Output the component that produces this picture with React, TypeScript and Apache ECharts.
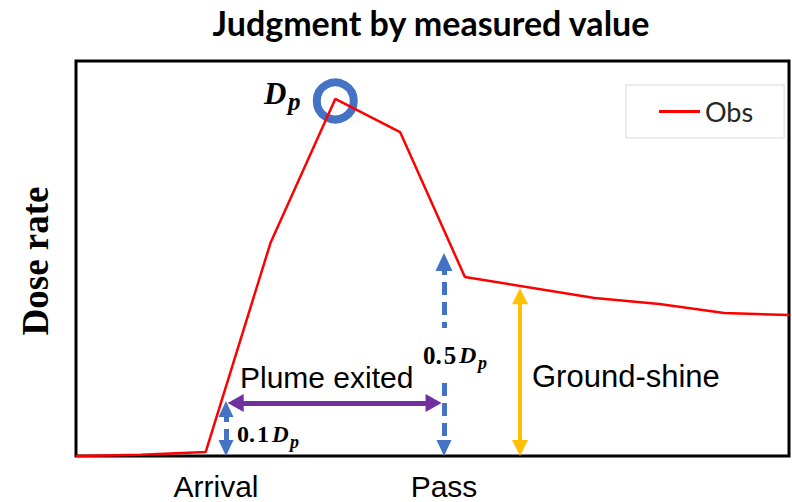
import React, { useEffect, useRef } from "react";
import * as echarts from "echarts";

// Observed dose-rate curve (schematic units, x = time step, y = % of axis range)
const timeSteps = [0, 1, 2, 3, 4, 5, 6, 8, 9, 10, 11];
const doseRate = [0, 0.3, 1.0, 53.9, 90.4, 82.0, 45.3, 40.0, 38.5, 36.2, 35.7];

// Annotation positions in data units
const arrivalX = 2.314;
const passX = 5.677;
const groundShineX = 6.85;
const groundShineTop = 42.5;
const plumeY = 13.42;
const plumeFromX = 2.34;
const plumeToX = 5.64;
const tenthTop = 13.9;
const halfTop = 51.4;
const halfGapTop = 32.4;
const halfGapBottom = 18.5;
const peakMark = [4.0, 89.9];

const X_MAX = 11;
const Y_MAX = 100;

export default function App() {
  const ref = useRef<HTMLDivElement>(null);
  useEffect(() => {
    if (!ref.current) return;
    const chart = echarts.init(ref.current, undefined, { renderer: "svg" });
    const left = 76, right = 3, top = 61, bottom = 46;
    const plotW = 792 - left - right;
    const plotH = 502 - top - bottom;
    const ux = X_MAX / plotW; // data units per px
    const uy = Y_MAX / plotH;

    const blue = "#4472C4";
    const purple = "#7030A0";
    const gold = "#FFC000";

    const pt = (x: number, y: number, sym: string, size?: number[]) => ({
      coord: [x, y],
      symbol: sym,
      symbolSize: size || [14, 16],
    });

    const seg = (
      a: any,
      b: any,
      color: string,
      width: number,
      dashed: boolean
    ) => [
      { ...a, lineStyle: { color, width, type: dashed ? [13, 7] : "solid" } },
      b,
    ];

    const hHead = 16;
    const markLines = [
      // 0.1 Dp double arrow at Arrival
      seg(
        pt(arrivalX, tenthTop - (hHead / 2) * uy, "triangle", [15, hHead]),
        pt(arrivalX, (hHead / 2) * uy, "triangle", [15, hHead]),
        blue,
        5,
        true
      ),
      // Plume exited horizontal arrow
      seg(
        pt(plumeFromX + 8 * ux, plumeY, "triangle", [18, 16]),
        pt(plumeToX - 8 * ux, plumeY, "triangle", [18, 16]),
        purple,
        5,
        false
      ),
      // 0.5 Dp upper part
      seg(
        pt(passX, halfTop - 9 * uy, "triangle", [17, 18]),
        pt(passX, halfGapTop, "none"),
        blue,
        5,
        true
      ),
      // 0.5 Dp lower part
      seg(
        pt(passX, halfGapBottom, "none"),
        pt(passX, (hHead / 2) * uy, "triangle", [15, hHead]),
        blue,
        5,
        true
      ),
      // Ground-shine
      seg(
        pt(groundShineX, groundShineTop - 8 * uy, "triangle", [16, 16]),
        pt(groundShineX, 8 * uy, "triangle", [16, 16]),
        gold,
        4,
        false
      ),
    ];

    const sans = "'Liberation Sans', Arial, sans-serif";
    const serif = "'Liberation Serif', 'Times New Roman', serif";

    chart.setOption({
      animation: false,
      grid: {
        left,
        right,
        top,
        bottom,
        show: true,
        borderColor: "#000",
        borderWidth: 3,
        backgroundColor: "#fff",
      },
      legend: {
        left: 626,
        top: 85,
        data: ["Obs"],
        icon: "rect",
        itemWidth: 41,
        itemHeight: 3,
        itemGap: 5,
        padding: [13, 31, 13, 33],
        borderColor: "#d9d9d9",
        borderWidth: 1,
        textStyle: { fontFamily: "Lato, sans-serif", fontSize: 27, color: "#262626", lineHeight: 24 },
      },
      xAxis: {
        type: "value",
        min: 0,
        max: X_MAX,
        axisLine: { show: false },
        axisTick: { show: false },
        axisLabel: { show: false },
        splitLine: { show: false },
      },
      yAxis: {
        type: "value",
        min: 0,
        max: Y_MAX,
        axisLine: { show: false },
        axisTick: { show: false },
        axisLabel: { show: false },
        splitLine: { show: false },
      },
      series: [
        {
          name: "Obs",
          type: "line",
          data: timeSteps.map((t, i) => [t, doseRate[i]]),
          symbol: "none",
          color: "#FF0000",
          lineStyle: { color: "#FF0000", width: 2.5 },
          z: 3,
          markLine: {
            silent: true,
            label: { show: false },
            emphasis: { disabled: true },
            data: markLines,
          },
          markPoint: {
            silent: true,
            z: 2,
            data: [
              {
                coord: peakMark,
                symbol: "circle",
                symbolSize: 37,
                itemStyle: { color: "rgba(0,0,0,0)", borderColor: blue, borderWidth: 8 },
                label: { show: false },
              },
            ],
          },
        },
      ],
      graphic: [
        {
          type: "text",
          x: 431,
          y: 22,
          style: {
            text: "Judgment by measured value",
            fontFamily: "Lato, sans-serif",
            fontWeight: "bold",
            fontSize: 34,
            fill: "#000",
            align: "center",
            verticalAlign: "middle",
          },
        },
        {
          type: "text",
          x: 35,
          y: 261,
          rotation: Math.PI / 2,
          style: {
            text: "Dose rate",
            fontFamily: serif,
            fontWeight: "bold",
            fontSize: 37,
            fill: "#000",
            align: "center",
            verticalAlign: "middle",
          },
        },
        {
          type: "text",
          x: 216,
          y: 486,
          style: { text: "Arrival", fontFamily: sans, fontSize: 30, fill: "#000", align: "center", verticalAlign: "middle" },
        },
        {
          type: "text",
          x: 444,
          y: 486,
          style: { text: "Pass", fontFamily: sans, fontSize: 30, fill: "#000", align: "center", verticalAlign: "middle" },
        },
        {
          type: "text",
          x: 240,
          y: 377,
          style: { text: "Plume exited", fontFamily: sans, fontSize: 30, fill: "#000", align: "left", verticalAlign: "middle" },
        },
        {
          type: "text",
          x: 532,
          y: 376,
          style: { text: "Ground-shine", fontFamily: sans, fontSize: 31, fill: "#000", align: "left", verticalAlign: "middle" },
        },
        // 0.1 Dp
        {
          type: "text",
          x: 237,
          y: 434,
          style: { text: "0.\u200A1", fontFamily: serif, fontWeight: "bold", fontSize: 24, fill: "#000", align: "left", verticalAlign: "middle" },
        },
        {
          type: "text",
          x: 272,
          y: 434,
          style: { text: "D", fontFamily: serif, fontWeight: "bold", fontStyle: "italic", fontSize: 23, fill: "#000", align: "left", verticalAlign: "middle" },
        },
        {
          type: "text",
          x: 290,
          y: 442,
          style: { text: "p", fontFamily: serif, fontWeight: "bold", fontStyle: "italic", fontSize: 18, fill: "#000", align: "left", verticalAlign: "middle" },
        },
        // 0.5 Dp
        {
          type: "text",
          x: 423,
          y: 355,
          style: { text: "0.\u200A5", fontFamily: serif, fontWeight: "bold", fontSize: 25, fill: "#000", align: "left", verticalAlign: "middle" },
        },
        {
          type: "text",
          x: 459,
          y: 355,
          style: { text: "D", fontFamily: serif, fontWeight: "bold", fontStyle: "italic", fontSize: 24, fill: "#000", align: "left", verticalAlign: "middle" },
        },
        {
          type: "text",
          x: 478,
          y: 363,
          style: { text: "p", fontFamily: serif, fontWeight: "bold", fontStyle: "italic", fontSize: 18, fill: "#000", align: "left", verticalAlign: "middle" },
        },
        // Dp at peak
        {
          type: "text",
          x: 264,
          y: 93,
          style: { text: "D", fontFamily: serif, fontWeight: "bold", fontStyle: "italic", fontSize: 31, fill: "#000", align: "left", verticalAlign: "middle" },
        },
        {
          type: "text",
          x: 288,
          y: 101,
          style: { text: "p", fontFamily: serif, fontWeight: "bold", fontStyle: "italic", fontSize: 25, fill: "#000", align: "left", verticalAlign: "middle" },
        },
      ],
    });
    return () => chart.dispose();
  }, []);
  return (
    <div
      ref={ref}
      style={{ position: "fixed", left: 0, top: 0, width: 792, height: 502, background: "#fff" }}
    />
  );
}
